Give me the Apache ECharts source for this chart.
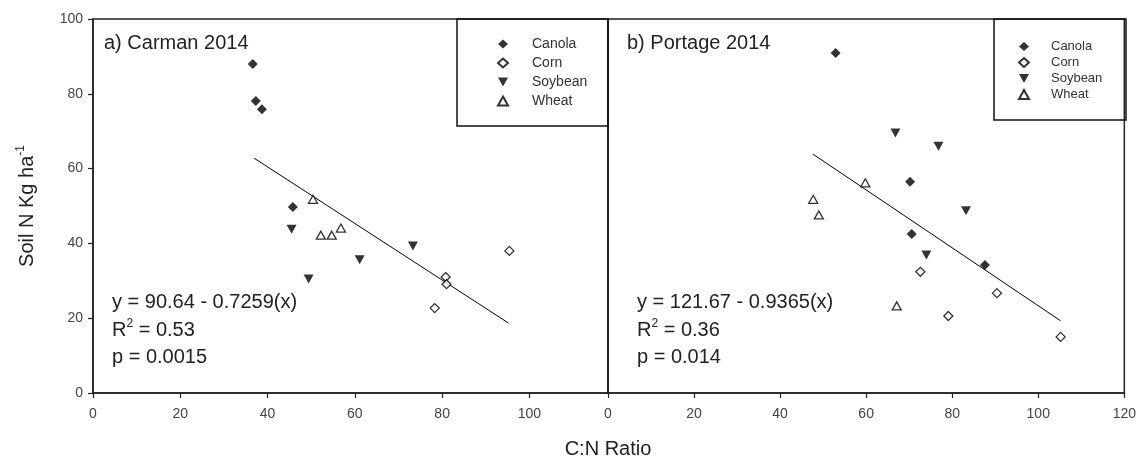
<!DOCTYPE html>
<html>
<head>
<meta charset="utf-8">
<script src="https://cdn.jsdelivr.net/npm/echarts@6/dist/echarts.min.js"></script>
<style>
  html, body { margin: 0; padding: 0; background: #fff; }
  #main { width: 1139px; height: 463px; }
</style>
</head>
<body>
<div id="main"></div>
<script>
// crop names
var crops = ['Canola', 'Corn', 'Soybean', 'Wheat'];
var xTicks = [0, 20, 40, 60, 80, 100, 120];
var yTicks = [0, 20, 40, 60, 80, 100];

// a) Carman 2014  -- [C:N ratio, soil N]
var carmanCanola  = [[36.6, 88.0], [37.3, 78.1], [38.7, 75.9], [45.8, 49.7]];
var carmanCorn    = [[80.8, 31.0], [81.0, 29.1], [78.3, 22.7], [95.4, 38.0]];
var carmanSoybean = [[45.5, 43.8], [49.4, 30.5], [61.1, 35.6], [73.3, 39.3]];
var carmanWheat   = [[50.4, 51.8], [52.2, 42.2], [54.7, 42.2], [56.8, 44.1]];
var carmanFit     = [[36.9, 62.8], [95.2, 18.7]];

// b) Portage 2014
var portageCanola  = [[52.9, 90.9], [70.2, 56.5], [70.6, 42.5], [87.6, 34.2]];
var portageCorn    = [[72.6, 32.4], [90.4, 26.7], [79.1, 20.6], [105.2, 15.0]];
var portageSoybean = [[66.8, 69.5], [76.8, 66.0], [83.2, 48.7], [74.0, 36.9]];
var portageWheat   = [[59.8, 56.2], [47.7, 51.8], [49.0, 47.6], [67.1, 23.3]];
var portageFit     = [[47.6, 63.9], [105.2, 19.3]];

var myChart = echarts.init(document.getElementById('main'));

var FONT = 'Liberation Sans, Arial, sans-serif';
var downTri = 'path://M0,0 L10,0 L5,9 Z';

// marker look for each crop
var markers = {
  Canola:  { symbol: 'diamond', size: 10, style: { color: '#000' } },
  Corn:    { symbol: 'diamond', size: 9,  style: { color: '#fff', borderColor: '#000', borderWidth: 1.3 } },
  Soybean: { symbol: downTri,   size: [10, 9], style: { color: '#000' } },
  Wheat:   { symbol: 'triangle', size: [9, 8], style: { color: '#fff', borderColor: '#000', borderWidth: 1.3 } }
};

function scatter(name, data, idx) {
  var m = markers[name];
  return {
    name: name,
    type: 'scatter',
    xAxisIndex: idx,
    yAxisIndex: idx,
    symbol: m.symbol,
    symbolSize: m.size,
    itemStyle: m.style,
    data: data,
    z: 3
  };
}

function fitLine(name, data, idx) {
  return {
    name: name,
    type: 'line',
    xAxisIndex: idx,
    yAxisIndex: idx,
    showSymbol: false,
    symbol: 'none',
    lineStyle: { color: '#000', width: 1 },
    data: data,
    z: 2
  };
}

var axisCommon = {
  type: 'value',
  min: 0,
  interval: 20,
  splitLine: { show: false },
  axisLine: { show: true, lineStyle: { color: '#222', width: 1.5 } },
  axisTick: { show: true, inside: false, length: 5, lineStyle: { color: '#222', width: 1.2 } },
  axisLabel: { color: '#444', fontSize: 14, fontFamily: FONT }
};

function txt(left, top, text) {
  return {
    left: left, top: top, padding: 0,
    text: text,
    textStyle: {
      fontFamily: FONT, fontWeight: 'normal', fontSize: 20, color: '#222',
      rich: {
        a: { fontFamily: FONT, fontSize: 20, color: '#222', lineHeight: 24 },
        s: { fontFamily: FONT, fontSize: 12, color: '#222', verticalAlign: 'top', lineHeight: 14 }
      }
    }
  };
}

var option = {
  animation: false,
  backgroundColor: '#fff',
  title: [
    txt(104, 31, '{a|a) Carman 2014}'),
    txt(627, 31, '{a|b) Portage 2014}'),
    txt(112, 290, '{a|y = 90.64 - 0.7259(x)}'),
    txt(112, 318, '{a|R}{s|2}{a| = 0.53}'),
    txt(112, 345, '{a|p = 0.0015}'),
    txt(637, 290, '{a|y = 121.67 - 0.9365(x)}'),
    txt(637, 318, '{a|R}{s|2}{a| = 0.36}'),
    txt(637, 345, '{a|p = 0.014}')
  ],
  legend: [{
    data: crops,
    orient: 'vertical',
    left: 497, top: 37,
    itemWidth: 10, itemHeight: 9, itemGap: 5,
    padding: 0,
    selectedMode: false,
    textStyle: { fontFamily: FONT, color: '#333', fontSize: 14, lineHeight: 14, padding: [0, 0, 0, 19] }
  }, {
    data: crops,
    orient: 'vertical',
    left: 1018, top: 40,
    itemWidth: 10, itemHeight: 9, itemGap: 3,
    padding: 0,
    selectedMode: false,
    textStyle: { fontFamily: FONT, color: '#333', fontSize: 13, lineHeight: 13, padding: [0, 0, 0, 17] }
  }],
  graphic: [
    { type: 'rect', shape: { x: 457, y: 19, width: 151, height: 107 },
      style: { fill: 'transparent', stroke: '#111', lineWidth: 1.5 }, z: 10 },
    { type: 'rect', shape: { x: 994, y: 19, width: 132, height: 101 },
      style: { fill: 'transparent', stroke: '#111', lineWidth: 1.5 }, z: 10 }
  ],
  grid: [
    { left: 93, top: 19, width: 515, bottom: 70, show: true, borderColor: '#222', borderWidth: 1.5 },
    { left: 608, top: 19, width: 519, bottom: 70, show: true, borderColor: '#222', borderWidth: 1.5 }
  ],
  xAxis: [
    Object.assign({}, axisCommon, {
      gridIndex: 0, max: 118,
      axisLabel: Object.assign({}, axisCommon.axisLabel, { margin: 14, showMaxLabel: false })
    }),
    Object.assign({}, axisCommon, {
      gridIndex: 1, max: xTicks[xTicks.length - 1],
      name: 'C:N Ratio', nameLocation: 'start', nameGap: 0,
      nameTextStyle: { fontFamily: FONT, fontSize: 20, color: '#222', align: 'center', verticalAlign: 'top', padding: [46, 0, 0, 0] },
      axisLabel: Object.assign({}, axisCommon.axisLabel, { margin: 14 })
    })
  ],
  yAxis: [
    Object.assign({}, axisCommon, {
      gridIndex: 0, max: yTicks[yTicks.length - 1],
      name: '{a|Soil N Kg ha}{s|-1}',
      nameLocation: 'middle', nameGap: 54,
      nameTextStyle: {
        rich: {
          a: { fontFamily: FONT, fontSize: 20, color: '#222', lineHeight: 24 },
          s: { fontFamily: FONT, fontSize: 12, color: '#222', verticalAlign: 'top', lineHeight: 14 }
        }
      },
      axisLabel: Object.assign({}, axisCommon.axisLabel, { margin: 10 })
    }),
    Object.assign({}, axisCommon, {
      gridIndex: 1, max: yTicks[yTicks.length - 1],
      axisTick: { show: false },
      axisLabel: { show: false }
    })
  ],
  series: [
    scatter('Canola', carmanCanola, 0),
    scatter('Corn', carmanCorn, 0),
    scatter('Soybean', carmanSoybean, 0),
    scatter('Wheat', carmanWheat, 0),
    fitLine('Carman fit', carmanFit, 0),
    scatter('Canola', portageCanola, 1),
    scatter('Corn', portageCorn, 1),
    scatter('Soybean', portageSoybean, 1),
    scatter('Wheat', portageWheat, 1),
    fitLine('Portage fit', portageFit, 1)
  ]
};

myChart.setOption(option, true);
</script>
</body>
</html>
